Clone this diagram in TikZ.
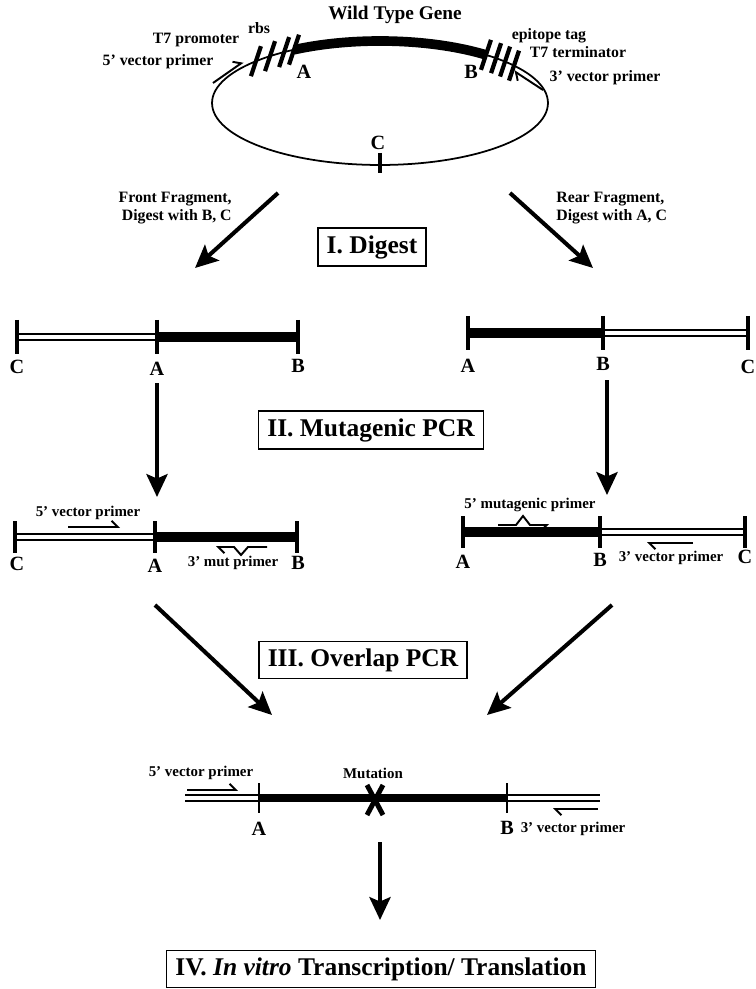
\documentclass[tikz,border=0pt]{standalone}
\usepackage{fontspec}
\setmainfont{Liberation Serif}
\usetikzlibrary{arrows.meta}

\begin{document}
\begin{tikzpicture}[x=0.02cm, y=-0.02cm,
  lbl/.style={font=\fontsize{9}{10.5}\selectfont\bfseries, inner sep=0pt},
  sml/.style={font=\fontsize{8.5}{10}\selectfont\bfseries, inner sep=0pt},
  site/.style={font=\fontsize{11.5}{13}\selectfont\bfseries, inner sep=0pt},
  stagebox/.style={draw, line width=1pt, inner xsep=5pt, inner ysep=4pt,
                   font=\fontsize{14.5}{17}\selectfont\bfseries},
  flow/.style={line width=2.3pt, -{Stealth[length=13pt, width=12pt, inset=2.5pt]}},
  gene/.style={line width=5.5pt},
  vecdna/.style={double, line width=0.8pt, double distance=2.4pt},
  cut/.style={line width=2pt},
  primer/.style={line width=1.1pt, -{Straight Barb[left, length=3.5pt, width=7pt]}},
]
\useasboundingbox (0,0) rectangle (755,989);

%% Plasmid with the wild type gene
\draw[line width=1pt] (380,103) ellipse [x radius=3.36cm, y radius=1.24cm];
\draw[gene] plot[domain=50.9:120.8, samples=40] ({380+168*cos(\x)},{103-62*sin(\x)});
\foreach \t in {137.6,130.9,124.8,120.8,50.9,46.3,41.9,37.1}{
  \draw[cut, line width=2.4pt] ({380+168*cos(\t)-5},{103-62*sin(\t)+15})
          -- ({380+168*cos(\t)+5},{103-62*sin(\t)-15});
}
\draw[cut] (380,153) -- (380,173);
\coordinate (pl5s) at (213,83);  \coordinate (pl5e) at (243,62);
\coordinate (pl3s) at (543,90);  \coordinate (pl3e) at (514,71);
\draw[primer] (pl5s) -- (pl5e);
\draw[primer] (pl3s) -- (pl3e);

\node[font=\fontsize{11}{13}\selectfont\bfseries, inner sep=0pt] (wt) at (395,15) {Wild Type Gene};
\node[lbl] (rbs)  at (259,28) {rbs};
\node[lbl] (prom) at (196,40) {T7 promoter};
\node[lbl] (pl5)  at (158,62) {5' vector primer};
\node[lbl] (tag)  at (549,36) {epitope tag};
\node[lbl] (term) at (578,52) {T7 terminator};
\node[lbl] (pl3)  at (605,78) {3' vector primer};
\node[site] (plA) at (304,72) {A};
\node[site] (plB) at (471,72) {B};
\node[site] (plC) at (378,143) {C};

%% I. Digest
\coordinate (dg1s) at (278,193); \coordinate (dg1e) at (195,268);
\coordinate (dg2s) at (510,193); \coordinate (dg2e) at (593,268);
\draw[flow] (dg1s) -- (dg1e);
\draw[flow] (dg2s) -- (dg2e);
\node[lbl, align=right, anchor=east] (front) at (232,208) {Front Fragment,\\Digest with B, C};
\node[lbl, align=left, anchor=west] (rear) at (556,208) {Rear Fragment,\\Digest with A, C};
\node[stagebox] (digest) at (372,247) {I. Digest};

%% Front and rear fragments
\coordinate (fC) at (17,337);  \coordinate (fA) at (157,337); \coordinate (fB) at (298,337);
\coordinate (rA) at (468,333); \coordinate (rB) at (603,333); \coordinate (rC) at (748,333);
\draw[vecdna] (fC) -- (fA);
\draw[gene] (fA) -- (fB);
\draw[gene] (rA) -- (rB);
\draw[vecdna] (rB) -- (rC);
\foreach \p in {fC,fA,fB,rA,rB,rC}{
  \draw[cut] (\p) ++(0,-17) -- ++(0,34);
}
\node[site] (fCl) at (17,367)  {C};
\node[site] (fAl) at (157,369) {A};
\node[site] (fBl) at (298,366) {B};
\node[site] (rAl) at (468,366) {A};
\node[site] (rBl) at (603,364) {B};
\node[site] (rCl) at (748,367) {C};

%% II. Mutagenic PCR
\coordinate (mu1s) at (157,383); \coordinate (mu1e) at (157,497);
\coordinate (mu2s) at (607,380); \coordinate (mu2e) at (607,495);
\draw[flow] (mu1s) -- (mu1e);
\draw[flow] (mu2s) -- (mu2e);
\node[stagebox] (mutpcr) at (371,430) {II. Mutagenic PCR};

%% Fragments with primers
\coordinate (gC) at (15,537);  \coordinate (gA) at (155,537); \coordinate (gB) at (297,537);
\coordinate (hA) at (463,532); \coordinate (hB) at (600,532); \coordinate (hC) at (745,532);
\draw[vecdna] (gC) -- (gA);
\draw[gene] (gA) -- (gB);
\draw[gene] (hA) -- (hB);
\draw[vecdna] (hB) -- (hC);
\foreach \p in {gC,gA,gB,hA,hB,hC}{
  \draw[cut] (\p) ++(0,-16) -- ++(0,32);
}
\draw[primer] (68,527) -- (120,527);
\draw[primer] (267,547) -- (248,547) -- (241,555) -- (234,547) -- (216,547);
\draw[primer, -{Straight Barb[right, length=3.5pt, width=7pt]}]
  (498,525) -- (516,525) -- (523,516) -- (530,525) -- (549,525);
\draw[primer] (693,543) -- (647,543);
\node[sml] (g5)  at (88,513)  {5' vector primer};
\node[sml] (g3)  at (233,563) {3' mut primer};
\node[sml] (h5)  at (530,505) {5' mutagenic primer};
\node[sml] (h3)  at (671,558) {3' vector primer};
\node[site] (gCl) at (17,564)  {C};
\node[site] (gAl) at (155,566) {A};
\node[site] (gBl) at (298,563) {B};
\node[site] (hAl) at (463,562) {A};
\node[site] (hBl) at (600,560) {B};
\node[site] (hCl) at (745,557) {C};

%% III. Overlap PCR
\coordinate (ov1s) at (155,605); \coordinate (ov1e) at (272,715);
\coordinate (ov2s) at (612,605); \coordinate (ov2e) at (487,715);
\draw[flow] (ov1s) -- (ov1e);
\draw[flow] (ov2s) -- (ov2e);
\node[stagebox] (ovlpcr) at (363,660) {III. Overlap PCR};

%% Full length product
\coordinate (kL) at (185,798); \coordinate (kA) at (259,798);
\coordinate (kB) at (507,798); \coordinate (kR) at (600,798);
\draw[vecdna] (kL) -- (kA);
\draw[gene, line width=4pt] (kA) -- (kB);
\draw[vecdna] (kB) -- (kR);
\foreach \p in {kA,kB}{
  \draw[line width=1pt] (\p) ++(0,-15) -- ++(0,30);
}
\coordinate (mut) at (375,800);
\draw[line width=2.8pt] (mut) ++(-8,-15) -- ++(16,30);
\draw[line width=2.8pt] (mut) ++(8,-15) -- ++(-16,30);
\draw[primer] (187,790) -- (238,790);
\draw[primer] (598,809) -- (553,809);
\node[sml] (k5)  at (201,773) {5' vector primer};
\node[sml] (mutl) at (373,773) {Mutation};
\node[sml] (k3)  at (573,829) {3' vector primer};
\node[site] (kAl) at (259,829) {A};
\node[site] (kBl) at (507,828) {B};

%% IV. Transcription / translation
\coordinate (tr1s) at (380,842); \coordinate (tr1e) at (380,920);
\draw[flow] (tr1s) -- (tr1e);
\node[stagebox] (ivt) at (381,969) {IV. \textit{In vitro} Transcription/ Translation};
\end{tikzpicture}
\end{document}
